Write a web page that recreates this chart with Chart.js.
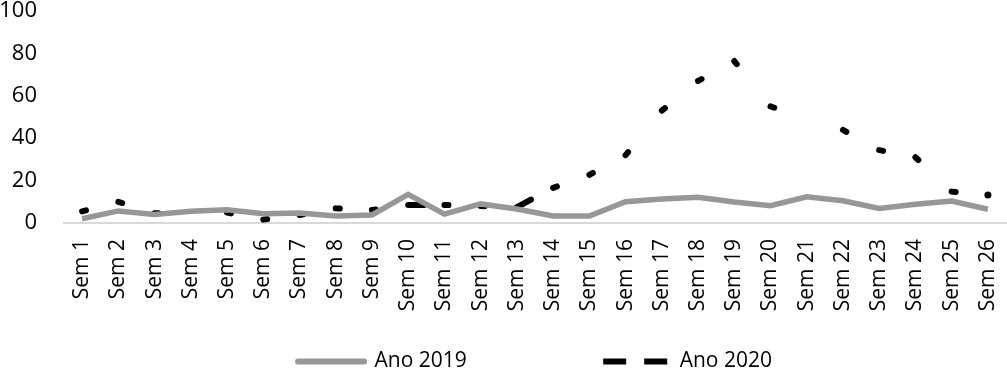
<!DOCTYPE html>
<html>
<head>
<meta charset="utf-8">
<script src="https://cdn.jsdelivr.net/npm/chart.js@4.4.1/dist/chart.umd.min.js"></script>
<style>
  body { margin: 0; background: #fff; }
  #wrap { width: 1007px; height: 372px; }
</style>
</head>
<body>
<div id="wrap"><canvas id="grafico"></canvas></div>
<script>
// semanas epidemiologicas
var semanas = ["Sem 1", "Sem 2", "Sem 3", "Sem 4", "Sem 5", "Sem 6", "Sem 7", "Sem 8", "Sem 9",
  "Sem 10", "Sem 11", "Sem 12", "Sem 13", "Sem 14", "Sem 15", "Sem 16", "Sem 17", "Sem 18",
  "Sem 19", "Sem 20", "Sem 21", "Sem 22", "Sem 23", "Sem 24", "Sem 25", "Sem 26"];

var ano2019 = [2, 5.7, 4, 5.5, 6.3, 4.4, 4.7, 3.3, 3.8, 13.5, 4.2, 9, 6.6, 3.3, 3.3, 10,
  11.3, 12.1, 9.9, 8.2, 12.4, 10.5, 6.9, 8.8, 10.4, 6.5];

var ano2020 = [5.5, 10, 4.6, 5, 4.9, 1.6, 3.8, 6.9, 6.1, 8.5, 8.5, 8, 7.5, 16.6, 22.7, 32,
  53, 67, 76.4, 55, 49, 43.9, 34.4, 31, 14.8, 13.2];

var yTicks = [0, 20, 40, 60, 80, 100];

var fonte = "'Open Sans', sans-serif";
var ultimo = ano2020.length - 1;

var ctx = document.getElementById("grafico").getContext("2d");
var grafico = new Chart(ctx, {
  type: "line",
  data: {
    labels: semanas,
    datasets: [{
      label: "Ano 2019",
      data: ano2019,
      borderColor: "#979797",
      backgroundColor: "#979797",
      borderWidth: 5.5,
      pointRadius: 0,
      tension: 0
    }, {
      label: "Ano 2020",
      data: ano2020,
      borderColor: "#000000",
      backgroundColor: "#000000",
      borderWidth: 6,
      borderDash: [4, 1000],
      borderCapStyle: "round",
      // cada trecho desenhado a parte, o tracinho cai sobre a semana
      segment: {
        borderDashOffset: function(c) { return c.p0DataIndex % 2 ? 0.001 : 0; },
        borderDash: function(c) {
          if (c.p0DataIndex == 9 || c.p0DataIndex == 12) return [16, 1000];
          return undefined;
        },
        borderColor: function(c) {
          if (c.p0DataIndex == 3 || c.p0DataIndex == 20) return "rgba(0,0,0,0)";
          return undefined;
        }
      },
      pointRadius: function(c) { return c.dataIndex == ultimo ? 3.5 : 0; },
      pointBorderWidth: 0,
      pointBackgroundColor: "#000000",
      tension: 0
    }]
  },
  options: {
    responsive: true,
    maintainAspectRatio: false,
    animation: false,
    layout: { autoPadding: false, padding: { top: 0, right: 1, bottom: 0, left: 0 } },
    plugins: {
      tooltip: { enabled: false },
      legend: {
        position: "bottom",
        fullSize: false,
        maxHeight: 21,
        labels: {
          usePointStyle: true,
          pointStyle: "line",
          pointStyleWidth: 66,
          boxHeight: 4,
          padding: 0,
          color: "#000",
          font: { family: fonte, size: 21, lineHeight: 1 },
          generateLabels: function(chart) {
            var itens = Chart.defaults.plugins.legend.labels.generateLabels(chart);
            itens.forEach(function(it, i) {
              it.lineWidth = 6;
              it.lineCap = "butt";
              it.pointStyle = "line";
              if (i == 0) {
                it.lineDash = [];
                it.lineCap = "round";
                it.text = it.text + " ".repeat(25);
              } else {
                it.lineDash = [23, 18];
              }
            });
            return itens;
          }
        }
      }
    },
    scales: {
      x: {
        offset: true,
        grid: { display: false, drawTicks: false },
        border: { display: true, color: "#d9d9d9", width: 2 },
        ticks: {
          autoSkip: false,
          minRotation: 90,
          maxRotation: 90,
          padding: 16,
          color: "#000",
          font: { family: fonte, size: 21 }
        },
        afterFit: function(s) {
          s.height = 128;
          s.paddingLeft = 0;
          s.paddingRight = 0;
        }
      },
      y: {
        min: 0,
        max: 100,
        afterBuildTicks: function(s) {
          s.ticks = yTicks.map(function(v) { return { value: v }; });
        },
        grid: { display: false, drawTicks: false },
        border: { display: false },
        ticks: {
          padding: 27,
          color: "#000",
          font: { family: fonte, size: 22, lineHeight: 1 }
        },
        afterFit: function(s) {
          s.width = 64;
          s.paddingTop = 11;
          s.paddingBottom = 0;
        }
      }
    }
  }
});
</script>
</body>
</html>
